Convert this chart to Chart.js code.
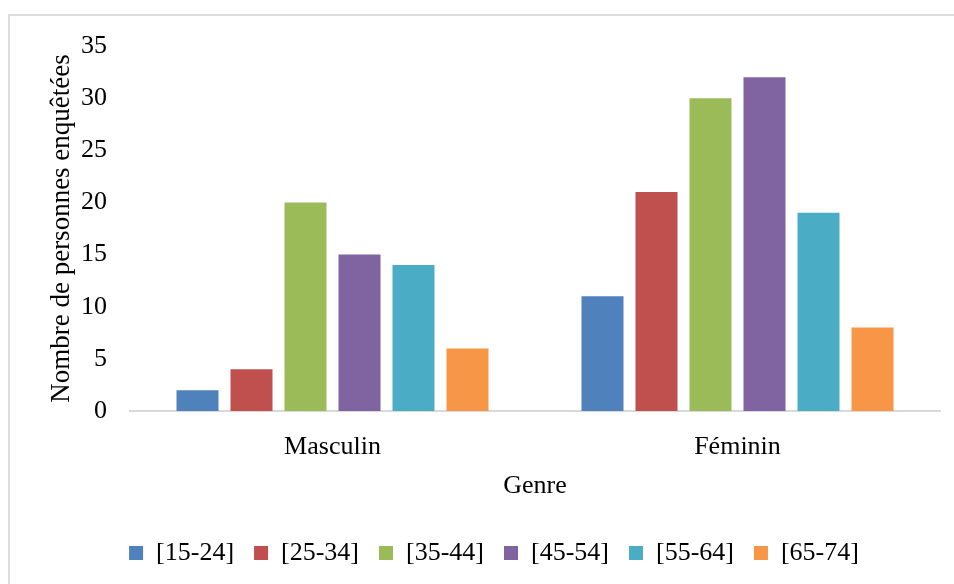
<!DOCTYPE html>
<html>
<head>
<meta charset="utf-8">
<script src="https://cdn.jsdelivr.net/npm/chart.js@4"></script>
<style>
  html, body { margin: 0; padding: 0; background: #fff; }
  #wrap { position: relative; width: 954px; height: 584px; overflow: hidden; }
  #frame { position: absolute; left: 8px; top: 14px; width: 960px; height: 600px;
           border-top: 2px solid #dcdcdc; border-left: 2px solid #dcdcdc; box-sizing: border-box; }
  canvas { position: absolute; left: 0; top: 0; }
</style>
</head>
<body>
<div id="wrap">
  <div id="frame"></div>
  <canvas id="c" width="954" height="584"></canvas>
</div>
<script>
const categories = ["Masculin", "Féminin"];
const seriesNames = ["[15-24]", "[25-34]", "[35-44]", "[45-54]", "[55-64]", "[65-74]"];
const s1524 = [2, 11];
const s2534 = [4, 21];
const s3544 = [20, 30];
const s4554 = [15, 32];
const s5564 = [14, 19];
const s6574 = [6, 8];
const yTicks = [0, 5, 10, 15, 20, 25, 30, 35];
const colors = ["#4F81BD", "#C0504D", "#9BBB59", "#8064A2", "#4BACC6", "#F79646"];
const allSeries = [s1524, s2534, s3544, s4554, s5564, s6574];

const FONT = "'Liberation Serif', 'Times New Roman', serif";

const chart = new Chart(document.getElementById('c'), {
  type: 'bar',
  data: {
    labels: categories,
    datasets: allSeries.map((d, i) => ({
      label: seriesNames[i],
      data: d,
      backgroundColor: colors[i],
      borderWidth: 0,
      barPercentage: 0.778,
      categoryPercentage: 0.8
    }))
  },
  options: {
    responsive: false,
    animation: false,
    devicePixelRatio: 1,
    layout: { padding: { left: 48, right: 14, top: 46, bottom: 8 } },
    plugins: {
      tooltip: { enabled: false },
      legend: {
        position: 'bottom',
        labels: {
          boxWidth: 14,
          boxHeight: 14,
          padding: 20,
          color: '#000',
          font: { family: FONT, size: 26 }
        }
      }
    },
    scales: {
      x: {
        grid: { display: false, drawTicks: false },
        border: { display: true, color: '#d9d9d9', width: 2 },
        ticks: { color: '#000', font: { family: FONT, size: 26 }, padding: 21 },
        title: { display: true, text: 'Genre', color: '#000',
                 font: { family: FONT, size: 26 }, padding: { top: 0, bottom: 18 } },
        afterFit: (s) => { s.height = 109; }
      },
      y: {
        min: 0, max: 35,
        afterBuildTicks: (s) => { s.ticks = yTicks.map(v => ({ value: v })); },
        grid: { display: false, drawTicks: false },
        border: { display: false },
        ticks: { color: '#000', font: { family: FONT, size: 26 }, padding: 23 },
        title: { display: true, text: 'Nombre de personnes enquêtées', color: '#000',
                 font: { family: FONT, size: 27 }, padding: { top: -2, bottom: 0 } },
        afterFit: (s) => { s.width = 82; }
      }
    }
  }
});
</script>
</body>
</html>
